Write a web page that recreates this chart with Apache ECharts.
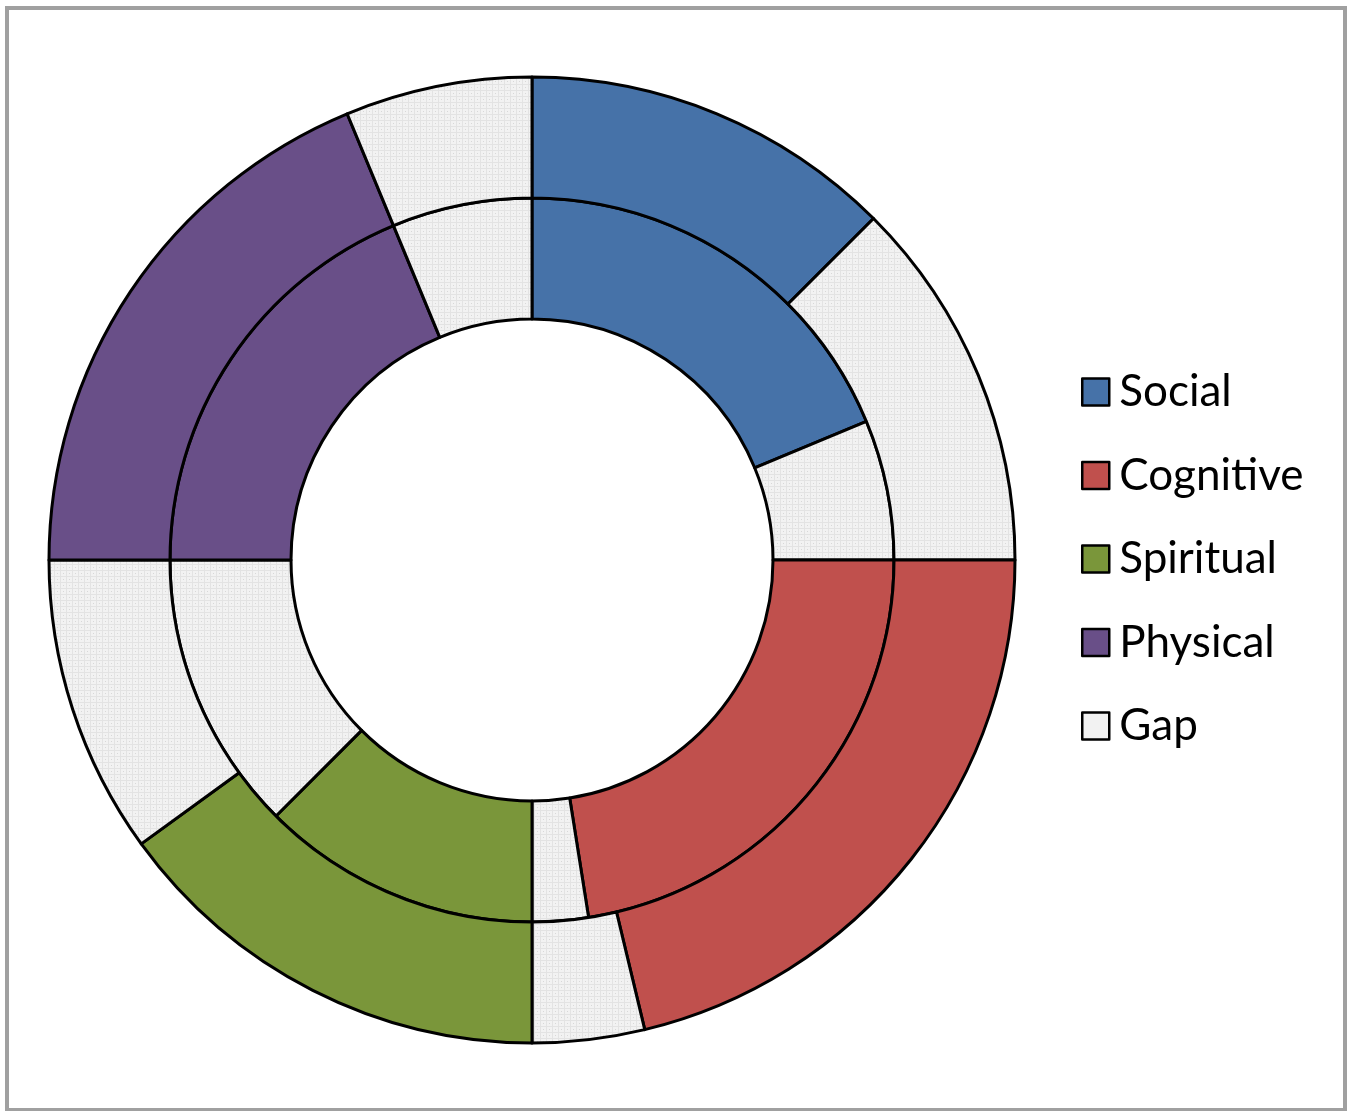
<!DOCTYPE html>
<html>
<head>
<meta charset="utf-8">
<script src="https://cdn.jsdelivr.net/npm/echarts@6/dist/echarts.min.js"></script>
<style>
  html, body { margin: 0; padding: 0; background: #fff; }
  #frame { position: absolute; left: 5px; top: 6px; width: 1334px; height: 1098px; border: 4px solid #a0a0a0; }
  #chart { position: absolute; left: 0; top: 0; width: 1355px; height: 1111px; }
</style>
</head>
<body>
<div id="frame"></div>
<div id="chart"></div>
<script>
// Category names (each ring: category followed by its gap, per quadrant)
const categories = ['Social', 'Cognitive', 'Spiritual', 'Physical'];
const gapName = 'Gap';
// Outer ring values (out of 10 per quadrant)
const outerValues = [5.0, 8.5, 6.0, 7.5];
const outerGaps   = [5.0, 1.5, 4.0, 2.5];
// Inner ring values
const innerValues = [7.5, 9.0, 5.0, 7.5];
const innerGaps   = [2.5, 1.0, 5.0, 2.5];
// Legend entries
const legendNames = ['Social', 'Cognitive', 'Spiritual', 'Physical', 'Gap'];

const colors = { Social: '#4672a8', Cognitive: '#c0504d', Spiritual: '#7a963a', Physical: '#694f88' };

// Gap fill pattern: light grey with faint dots
function makePattern() {
  const c = document.createElement('canvas');
  c.width = 6; c.height = 6;
  const g = c.getContext('2d');
  g.fillStyle = '#f2f2f2'; g.fillRect(0, 0, 6, 6);
  g.fillStyle = '#e3e3e3';
  g.fillRect(0, 0, 1, 6);
  g.fillRect(0, 0, 6, 1);
  g.fillStyle = '#d8d8d8';
  g.fillRect(3, 3, 1, 1);
  return c;
}
const gapFill = { image: makePattern(), repeat: 'repeat' };

function buildRing(vals, gaps) {
  const out = [];
  categories.forEach((name, i) => {
    out.push({ name: name, value: vals[i], itemStyle: { color: colors[name] } });
    out.push({ name: gapName, value: gaps[i], itemStyle: { color: gapFill } });
  });
  return out;
}

const chart = echarts.init(document.getElementById('chart'), null, { renderer: 'canvas' });
const common = {
  type: 'pie',
  center: [532, 560],
  startAngle: 90,
  clockwise: true,
  silent: true,
  label: { show: false },
  labelLine: { show: false },
  itemStyle: { borderColor: '#000', borderWidth: 3 },
  emphasis: { disabled: true },
  animation: false
};

chart.setOption({
  animation: false,
  legend: {
    orient: 'vertical',
    left: 1081,
    top: 364,
    padding: 0,
    itemWidth: 27,
    itemHeight: 27,
    itemGap: 27.5,
    icon: 'rect',
    selectedMode: false,
    data: legendNames.map(n => ({
      name: n,
      itemStyle: { color: n === 'Gap' ? '#f2f2f2' : colors[n], borderColor: '#000', borderWidth: 2.5 }
    })),
    textStyle: { fontFamily: 'Lato', fontSize: 44, color: '#000', lineHeight: 56, padding: [0, 0, 0, 5] }
  },
  series: [
    Object.assign({}, common, { name: 'Inner', radius: [241, 362], data: buildRing(innerValues, innerGaps) }),
    Object.assign({}, common, { name: 'Outer', radius: [362, 483], data: buildRing(outerValues, outerGaps) })
  ]
});
</script>
</body>
</html>
